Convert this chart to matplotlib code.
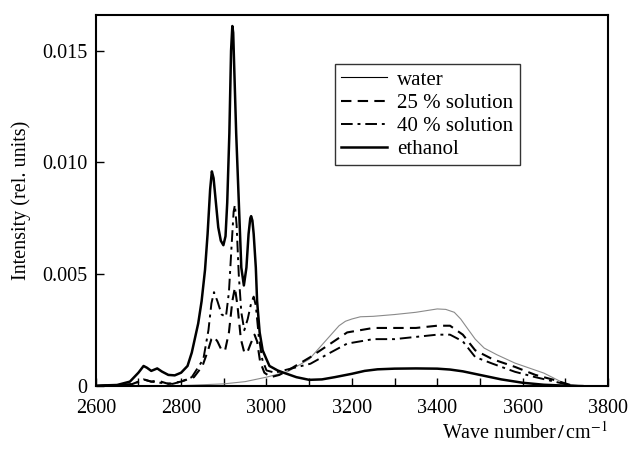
import matplotlib
matplotlib.use("Agg")
import matplotlib.pyplot as plt
from matplotlib.ticker import MultipleLocator, FixedLocator, FixedFormatter

plt.rcParams['font.family'] = ['Liberation Serif', 'DejaVu Serif']
plt.rcParams['mathtext.fontset'] = 'stix'

# ethanol
eth_x = [2600, 2650, 2680, 2700, 2712, 2720, 2730, 2744, 2755, 2770, 2785, 2800, 2815, 2825, 2840,
         2848, 2856, 2862, 2868, 2872, 2876, 2880, 2887, 2893, 2899, 2904, 2908, 2913, 2917, 2920,
         2922, 2924, 2929, 2935, 2941, 2947, 2953, 2958, 2962, 2964, 2967, 2970, 2975, 2978, 2984,
         2991, 3000, 3007, 3026, 3040, 3070, 3100, 3130, 3160, 3200, 3230, 3260, 3300, 3350, 3400,
         3430, 3460, 3500, 3550, 3600, 3650, 3700, 3740]
eth_y = [0.00002, 0.00005, 0.0002, 0.0006, 0.0009, 0.00082, 0.00068, 0.00079, 0.00065, 0.0005, 0.00048,
         0.0006, 0.0009, 0.0015, 0.0028, 0.0038, 0.0052, 0.0068, 0.0088, 0.0096, 0.0093, 0.0085,
         0.0071, 0.0065, 0.0063, 0.0067, 0.0082, 0.0113, 0.0150, 0.0161, 0.0158, 0.0145, 0.0113,
         0.0083, 0.0053, 0.0045, 0.0053, 0.0068, 0.0075, 0.0076, 0.0074, 0.0068, 0.0053, 0.0038,
         0.0024, 0.0016, 0.0012, 0.0009, 0.0007, 0.0006, 0.0004, 0.00028, 0.00030, 0.0004, 0.00055,
         0.00068, 0.00075, 0.00078, 0.00079, 0.00078, 0.00074, 0.00066, 0.0005, 0.0003, 0.00015,
         0.00006, 0.00002, 0.0]

# water
wat_x = [2600, 2700, 2800, 2900, 2950, 3000, 3050, 3100, 3142, 3170, 3185, 3200, 3220, 3250, 3300,
         3350, 3400, 3420, 3440, 3455, 3470, 3489, 3510, 3540, 3582, 3650, 3700, 3740]
wat_y = [0.0, 0.0, 0.00002, 0.0001, 0.0002, 0.0004, 0.00065, 0.0012, 0.0021, 0.0027, 0.0029,
         0.0030, 0.0031, 0.00312, 0.0032, 0.0033, 0.00345, 0.00343, 0.0033, 0.0030, 0.0026,
         0.0021, 0.0017, 0.0014, 0.00103, 0.00058, 0.0001, 0.0]

# 25 % solution
s25_x = [2600, 2680, 2700, 2712, 2730, 2744, 2770, 2800, 2830, 2850, 2863, 2871, 2877, 2885, 2895,
         2903, 2912, 2920, 2926, 2932, 2940, 2948, 2955, 2963, 2972, 2978, 2985, 2995, 3010, 3030,
         3050, 3103, 3150, 3189, 3250, 3300, 3350, 3400, 3430, 3460, 3489, 3530, 3582, 3630, 3675,
         3720]
s25_y = [0.0, 0.00005, 0.0002, 0.0003, 0.0002, 0.00025, 0.0001, 0.0002, 0.0004, 0.0009, 0.0016,
         0.0021, 0.0022, 0.0020, 0.0016, 0.0016, 0.0024, 0.0038, 0.0044, 0.0036, 0.0021, 0.0015,
         0.0015, 0.0019, 0.0023, 0.0020, 0.0011, 0.0006, 0.0004, 0.0005, 0.0007, 0.0013, 0.0019,
         0.0024, 0.0026, 0.0026, 0.0026, 0.0027, 0.0027, 0.0023, 0.0016, 0.0012, 0.00086, 0.0005,
         0.00027, 0.0]

# 40 % solution
s40_x = [2600, 2690, 2712, 2730, 2750, 2780, 2800, 2825, 2852, 2864, 2871, 2877, 2885, 2895, 2905,
         2912, 2918, 2923, 2926, 2930, 2935, 2941, 2948, 2956, 2964, 2970, 2975, 2982, 2990, 3000,
         3020, 3040, 3103, 3150, 3189, 3250, 3300, 3350, 3400, 3430, 3460, 3489, 3530, 3582, 3630,
         3675, 3720]
s40_y = [0.0, 0.0001, 0.0003, 0.0002, 0.00015, 0.0001, 0.0002, 0.0004, 0.0012, 0.0025, 0.0037,
         0.0042, 0.0038, 0.0032, 0.0031, 0.0042, 0.0062, 0.0078, 0.0081, 0.0072, 0.0050, 0.0033,
         0.0025, 0.0030, 0.0037, 0.0040, 0.0036, 0.0022, 0.0012, 0.0007, 0.0006, 0.0007, 0.0010,
         0.0015, 0.0019, 0.0021, 0.0021, 0.0022, 0.0023, 0.0023, 0.0020, 0.0013, 0.0010, 0.00064,
         0.0004, 0.0002, 0.0]

labels = ["water", "25 % solution", "40 % solution", "ethanol"]
x_ticks = [2600, 2800, 3000, 3200, 3400, 3600, 3800]
y_ticks = [0, 0.005, 0.010, 0.015]
y_tick_labels = ["0", "0.005", "0.010", "0.015"]

fig = plt.figure(figsize=(6.3, 4.5), dpi=100)
ax = fig.add_axes([0.152, 0.142, 0.813, 0.825])

ax.plot(wat_x, wat_y, color='#8a8a8a', lw=0.8, label=labels[0])
ax.plot(s25_x, s25_y, color='black', lw=1.5, dashes=(5, 3), label=labels[1])
ax.plot(s40_x, s40_y, color='black', lw=1.4, dashes=(6, 2.5, 1.5, 2.5), label=labels[2])
ax.plot(eth_x, eth_y, color='black', lw=1.8, label=labels[3])

ax.set_xlim(2600, 3800)
ax.set_ylim(0, 0.0166)
ax.xaxis.set_major_locator(FixedLocator(x_ticks))
ax.xaxis.set_minor_locator(MultipleLocator(100))
ax.yaxis.set_major_locator(FixedLocator(y_ticks))
ax.yaxis.set_major_formatter(FixedFormatter(y_tick_labels))
ax.tick_params(which='both', direction='in', top=False, right=False, labelsize=14.5, width=1.0)
ax.tick_params(which='major', length=6)
ax.tick_params(which='minor', length=6)
ax.tick_params(axis='x', pad=9)
ax.tick_params(axis='y', pad=6)
for s in ax.spines.values():
    s.set_linewidth(1.5)

ax.set_ylabel("Intensity (rel. units)", fontsize=14.5, labelpad=8)
ax.set_xlabel(r"Wave number$\,/\,$cm$^{-1}$", fontsize=14.5)
ax.xaxis.set_label_coords(1.0, -0.095)
ax.xaxis.label.set_horizontalalignment('right')

leg = ax.legend(loc='upper left', bbox_to_anchor=(0.467, 0.868), fontsize=15,
                frameon=True, fancybox=False, edgecolor='black', handlelength=2.2,
                borderpad=0.3, labelspacing=0.17, handletextpad=0.5, borderaxespad=0)
leg.get_frame().set_linewidth(1.0)
leg.get_lines()[0].set_color('black')

fig.savefig("out.png", dpi=100)
